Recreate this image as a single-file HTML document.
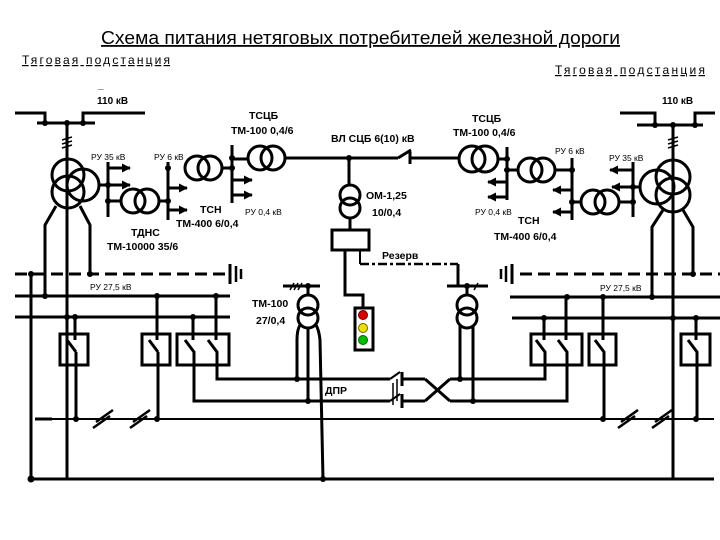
<!DOCTYPE html>
<html><head><meta charset="utf-8"><style>
html,body{margin:0;padding:0;background:#fff;}
svg{display:block;}
text{font-family:"Liberation Sans",sans-serif;fill:#000;}
</style></head><body>
<svg width="720" height="540" viewBox="0 0 720 540" xmlns="http://www.w3.org/2000/svg">
<defs>
<marker id="ar" viewBox="0 0 10 10" refX="9" refY="5" markerWidth="3" markerHeight="3" orient="auto"><path d="M0 0L10 5L0 10z" fill="#000"/></marker>
</defs>
<g stroke="#000" fill="none" stroke-width="3">
<path d="M15 113H45V123M83 123V113H145M37 123H95M67 123V480"/>
<path d="M62 140l10-3M62 144l10-3M62 148l10-3" stroke-width="1.5"/>
<circle cx="68" cy="175" r="16"/><circle cx="68" cy="192" r="16"/><circle cx="83" cy="185" r="16"/>
<path d="M56 206L45 225V296M80 206L90 225V274"/>
<path d="M99 185H108M108 162V217M108 201H121"/>
<g marker-end="url(#ar)"><path d="M108 168H130"/><path d="M108 185H130"/><path d="M168 188H187"/><path d="M168 210H187"/><path d="M232 180H252"/><path d="M232 195H252"/>
<path d="M507 182H488"/><path d="M507 197H488"/><path d="M572 190H553"/><path d="M572 212H553"/><path d="M633 170H610"/><path d="M633 187H612"/></g>
<circle cx="133" cy="201" r="12"/><circle cx="147" cy="201" r="12"/>
<path d="M159 201H168M168 162V220"/>
<circle cx="197" cy="168" r="12"/><circle cx="210" cy="168" r="12"/>
<path d="M222 168H232M232 145V203M232 159H248"/>
<circle cx="260" cy="158" r="12"/><circle cx="273" cy="158" r="12"/>
<path d="M285 158H398M398 158L411 150M410 152V164M410 158H460"/>
<path d="M349 158V185"/>
<circle cx="350" cy="195" r="10"/><circle cx="350" cy="208" r="10"/>
<path d="M350 218V230"/>
<rect x="332" y="230" width="37" height="20"/>
<path d="M345 250V295H363V308"/>
<rect x="355" y="308" width="18" height="42"/>
<path d="M360 250V264" stroke-width="2"/>
<path d="M360 264H458" stroke-width="2.5" stroke-dasharray="9 3 3 3"/>
<path d="M458 264V286"/>
<circle cx="472" cy="159" r="13"/><circle cx="485" cy="159" r="13"/>
<path d="M498 159H507M507 147V200M507 170H518"/>
<circle cx="530" cy="170" r="12"/><circle cx="543" cy="170" r="12"/>
<path d="M555 170H572M572 158V220M572 202H581"/>
<circle cx="593" cy="202" r="12"/><circle cx="607" cy="202" r="12"/>
<path d="M619 202H633M633 162V217M633 187H641"/>
<path d="M620 113H655V125M695 125V113H715M637 125H703M673 125V480"/>
<path d="M668 140l10-3M668 144l10-3M668 148l10-3" stroke-width="1.5"/>
<circle cx="673" cy="177" r="17"/><circle cx="673" cy="195" r="17"/><circle cx="657" cy="187" r="17"/>
<path d="M663 210L652 227V297M683 210L693 227V274"/>
<path d="M15 274H230" stroke-dasharray="12 6"/>
<path d="M230 264V284" stroke-width="3"/><path d="M236 266V282M241 269V279" stroke-width="2.5"/>
<path d="M15 296H230M15 317H230"/>
<path d="M31 274V479M31 479H714"/>
<path d="M520 274H720" stroke-dasharray="12 6"/>
<path d="M512 264V284" stroke-width="3"/><path d="M506 266V282M501 269V279" stroke-width="2.5"/>
<path d="M510 297H720M512 318H720"/>
<rect x="60" y="334" width="28" height="31"/>
<rect x="142" y="334" width="28" height="31"/>
<rect x="177" y="334" width="52" height="31"/>
<path d="M75 317V340M67 340L76 352M76 352V419M157 296V340M149 340L158 352M158 352V419M193 317V340M185 340L194 352V401H390M216 296V340M208 340L217 352V379H390"/>
<path d="M35 419H52" stroke-width="3"/>
<path d="M52 419H714" stroke-width="2"/>
<path d="M93 428L110 416M96 422L113 410M130 428L147 416M133 422L150 410" stroke-width="2.5"/>
<rect x="531" y="334" width="51" height="31"/>
<rect x="589" y="334" width="27" height="31"/>
<rect x="681" y="334" width="29" height="31"/>
<path d="M544 318V340M536 340L545 352V379H450M566 297V340M558 340L567 352V401H450M603 297V340M595 340L604 352V419M696 318V340M688 340L697 352V419"/>
<path d="M618 428L635 416M621 422L638 410M652 428L669 416M655 422L672 410" stroke-width="2.5"/>
<path d="M390 379L400 372M390 401L400 394" stroke-width="2"/>
<path d="M393 383V405M397 379V401" stroke-width="1.5"/>
<path d="M402 372V386M402 379H425M402 394V408M402 401H425M425 379L450 401M425 401L450 379" stroke-width="3"/>
<path d="M283 286H320M308 286V295"/>
<path d="M290 290l4-7M294 290l4-7M298 290l4-7" stroke-width="1.5"/>
<circle cx="308" cy="305" r="10"/><circle cx="308" cy="318" r="10"/>
<path d="M300 325Q297 330 297 340V379M308 328V401M316 325Q319 330 320 340L323 479"/>
<path d="M447 286H488M467 286V295"/>
<path d="M474 290l4-7" stroke-width="1.5"/>
<circle cx="467" cy="305" r="10"/><circle cx="467" cy="318" r="10"/>
<path d="M460 325V379M473 325V401"/>
</g>
<g fill="#000">
<circle cx="45" cy="123" r="3"/><circle cx="67" cy="123" r="3"/><circle cx="83" cy="123" r="3"/>
<circle cx="108" cy="185" r="3"/><circle cx="108" cy="201" r="3"/><circle cx="168" cy="201" r="3"/><circle cx="168" cy="168" r="3"/><circle cx="232" cy="168" r="3"/><circle cx="232" cy="158" r="3"/>
<circle cx="349" cy="158" r="3"/>
<circle cx="507" cy="159" r="3"/><circle cx="507" cy="170" r="3"/><circle cx="572" cy="170" r="3"/><circle cx="572" cy="202" r="3"/><circle cx="633" cy="202" r="3"/><circle cx="633" cy="187" r="3"/>
<circle cx="655" cy="125" r="3"/><circle cx="673" cy="125" r="3"/><circle cx="695" cy="125" r="3"/>
<circle cx="31" cy="274" r="3"/><circle cx="90" cy="274" r="3"/><circle cx="693" cy="274" r="3"/>
<circle cx="45" cy="296" r="3"/><circle cx="157" cy="296" r="3"/><circle cx="216" cy="296" r="3"/>
<circle cx="67" cy="317" r="3"/><circle cx="75" cy="317" r="3"/><circle cx="193" cy="317" r="3"/>
<circle cx="652" cy="297" r="3"/><circle cx="567" cy="297" r="3"/><circle cx="603" cy="297" r="3"/>
<circle cx="544" cy="318" r="3"/><circle cx="673" cy="318" r="3"/><circle cx="696" cy="318" r="3"/>
<circle cx="76" cy="419" r="3"/><circle cx="157" cy="419" r="3"/><circle cx="603" cy="419" r="3"/><circle cx="696" cy="419" r="3"/>
<circle cx="31" cy="479" r="3.5"/><circle cx="323" cy="479" r="3"/>
<circle cx="297" cy="379" r="3"/><circle cx="308" cy="401" r="3"/><circle cx="460" cy="379" r="3"/><circle cx="473" cy="401" r="3"/>
<circle cx="308" cy="286" r="3"/><circle cx="467" cy="286" r="3"/>
</g>
<circle cx="363" cy="315" r="4.5" fill="#e00000" stroke="#600" stroke-width="1"/>
<circle cx="363" cy="328" r="4.5" fill="#f0e000" stroke="#660" stroke-width="1"/>
<circle cx="363" cy="340" r="4.5" fill="#00c000" stroke="#060" stroke-width="1"/>
<text x="101" y="44" font-size="18" textLength="519" lengthAdjust="spacingAndGlyphs" text-decoration="underline">Схема питания нетяговых потребителей железной дороги</text>
<text x="22" y="64" font-size="12" textLength="148" lengthAdjust="spacing" text-decoration="underline">Тяговая подстанция</text>
<text x="555" y="74" font-size="12" textLength="150" lengthAdjust="spacing" text-decoration="underline">Тяговая подстанция </text>
<text x="98" y="88" font-size="10" font-weight="bold">_</text>
<text x="97" y="104" font-size="10" font-weight="bold">110 кВ</text>
<text x="662" y="104" font-size="10" font-weight="bold">110 кВ</text>
<g font-size="8.5">
<text x="91" y="160">РУ 35 кВ</text><text x="154" y="160">РУ 6 кВ</text>
<text x="245" y="215">РУ 0,4 кВ</text><text x="90" y="290">РУ 27,5 кВ</text>
<text x="609" y="161">РУ 35 кВ</text><text x="555" y="154">РУ 6 кВ</text>
<text x="475" y="215">РУ 0,4 кВ</text><text x="600" y="291">РУ 27,5 кВ</text>
</g>
<g font-size="10.5" font-weight="bold">
<text x="249" y="119">ТСЦБ</text><text x="231" y="134">ТМ-100 0,4/6</text>
<text x="200" y="213">ТСН</text><text x="176" y="227">ТМ-400 6/0,4</text>
<text x="131" y="236">ТДНС</text><text x="107" y="250">ТМ-10000 35/6</text>
<text x="331" y="142">ВЛ СЦБ 6(10) кВ</text>
<text x="472" y="122">ТСЦБ</text><text x="453" y="136">ТМ-100 0,4/6</text>
<text x="518" y="224">ТСН</text><text x="494" y="240">ТМ-400 6/0,4</text>
<text x="366" y="199">ОМ-1,25</text><text x="372" y="216">10/0,4</text>
<text x="382" y="259">Резерв</text>
<text x="252" y="307">ТМ-100</text><text x="256" y="324">27/0,4</text>
<text x="325" y="394">ДПР</text>
</g>
</svg>
</body></html>
